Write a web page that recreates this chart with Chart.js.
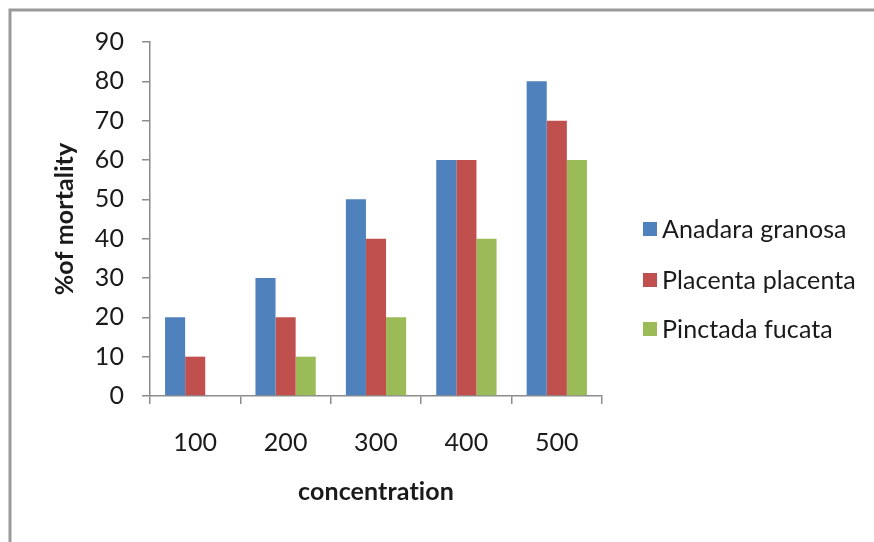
<!DOCTYPE html>
<html>
<head>
<meta charset="utf-8">
<script src="https://cdn.jsdelivr.net/npm/chart.js@4/dist/chart.umd.min.js"></script>
<style>
  html, body { margin: 0; padding: 0; background: #fff; }
  #wrap { width: 874px; height: 542px; position: relative; }
</style>
</head>
<body>
<div id="wrap"><canvas id="grafico"></canvas></div>
<script>
// Datos
const concentraciones = ['100', '200', '300', '400', '500'];
const anadaraGranosa = [20, 30, 50, 60, 80];
const placentaPlacenta = [10, 20, 40, 60, 70];
const pinctadaFucata = [0, 10, 20, 40, 60];
const ticksY = [0, 10, 20, 30, 40, 50, 60, 70, 80, 90];

const FUENTE = 'Lato, "Open Sans", sans-serif';
const GRIS = '#8c8c8c';
const TEXTO = '#1a1a1a';

// Marco exterior y leyenda a la derecha
const pluginMarcoLeyenda = {
  id: 'marcoLeyenda',
  beforeDraw(chart) {
    // un poco de espaciado evita la ligadura "ti" de Lato
    chart.ctx.letterSpacing = '0.1px';
  },
  afterDraw(chart) {
    const ctx = chart.ctx;
    ctx.save();
    ctx.strokeStyle = '#9a9a9a';
    ctx.lineWidth = 3;
    ctx.beginPath();
    ctx.moveTo(10, 542);
    ctx.lineTo(10, 10);
    ctx.lineTo(874, 10);
    ctx.stroke();

    const filas = [229, 280, 329];
    ctx.font = '25px ' + FUENTE;
    ctx.textBaseline = 'middle';
    ctx.textAlign = 'left';
    chart.data.datasets.forEach((ds, i) => {
      const y = filas[i];
      ctx.fillStyle = ds.backgroundColor;
      ctx.fillRect(643, y - 7, 14, 14);
      ctx.fillStyle = TEXTO;
      ctx.fillText(ds.label, 662, y + 1);
    });
    ctx.restore();
  }
};

const ctx = document.getElementById('grafico').getContext('2d');

const grafico = new Chart(ctx, {
  type: 'bar',
  data: {
    labels: concentraciones,
    datasets: [
      { label: 'Anadara granosa', data: anadaraGranosa, backgroundColor: '#4F81BD' },
      { label: 'Placenta placenta', data: placentaPlacenta, backgroundColor: '#C0504D' },
      { label: 'Pinctada fucata', data: pinctadaFucata, backgroundColor: '#9BBB59' }
    ]
  },
  options: {
    responsive: true,
    maintainAspectRatio: false,
    animation: false,
    layout: { padding: { top: 42, right: 272, bottom: 0, left: 0 } },
    datasets: { bar: { categoryPercentage: 0.667, barPercentage: 1 } },
    scales: {
      x: {
        afterFit(scale) { scale.height = 146; },
        grid: { offset: true, drawOnChartArea: false, tickLength: 8, color: GRIS, lineWidth: 1.5 },
        border: { color: GRIS, width: 1.5 },
        ticks: { color: TEXTO, font: { family: FUENTE, size: 25 }, padding: 24 },
        title: {
          display: true,
          text: 'concentration',
          color: TEXTO,
          font: { family: FUENTE, size: 25, weight: 'bold' },
          padding: { top: 0, bottom: 35 }
        }
      },
      y: {
        min: 0,
        max: 90,
        afterFit(scale) { scale.width = 150; },
        afterBuildTicks(scale) { scale.ticks = ticksY.map(v => ({ value: v })); },
        grid: { drawOnChartArea: false, tickLength: 8, color: GRIS, lineWidth: 1.5 },
        border: { color: GRIS, width: 1.5 },
        ticks: { color: TEXTO, font: { family: FUENTE, size: 25 }, padding: 18 },
        title: {
          display: true,
          text: '%of mortality',
          color: TEXTO,
          font: { family: FUENTE, size: 25, weight: 'bold' },
          padding: { top: 50, bottom: 0 }
        }
      }
    },
    plugins: {
      legend: { display: false },
      tooltip: { enabled: false }
    }
  },
  plugins: [pluginMarcoLeyenda]
});
</script>
</body>
</html>
